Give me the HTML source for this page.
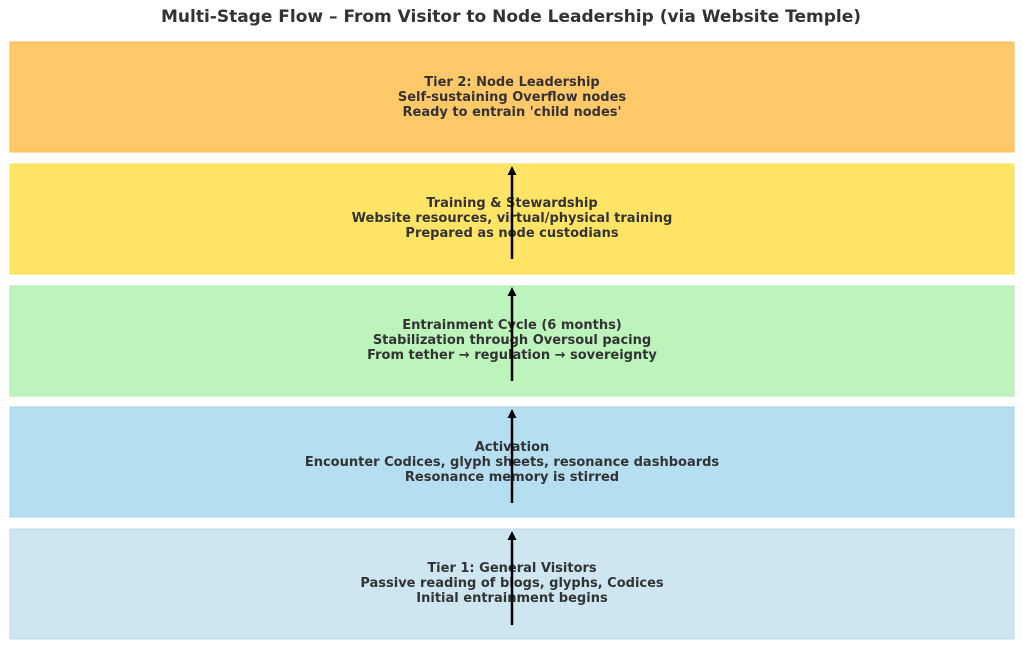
<!DOCTYPE html>
<html><head><meta charset="utf-8"><style>
html,body{margin:0;padding:0;background:#fff;}
svg{display:block;}
text{font-family:"DejaVu Sans","Liberation Sans",sans-serif;font-weight:bold;fill:#333;}
</style></head><body>
<svg width="1023" height="648" viewBox="0 0 1023 648" xmlns="http://www.w3.org/2000/svg">
<text x="511" y="22" text-anchor="middle" font-size="17">Multi-Stage Flow – From Visitor to Node Leadership (via Website Temple)</text>
<rect x="10" y="42" width="1004" height="110" fill="#ffc868" stroke="#fbbd4f" stroke-width="1"/>
<rect x="10" y="164" width="1004" height="110" fill="#ffe466" stroke="#fbdf55" stroke-width="1"/>
<rect x="10" y="286" width="1004" height="110" fill="#bcf4bb" stroke="#aeeaae" stroke-width="1"/>
<rect x="10" y="407" width="1004" height="110" fill="#b5dff1" stroke="#a3d4ea" stroke-width="1"/>
<rect x="10" y="529" width="1004" height="110" fill="#cde6ef" stroke="#bcdde9" stroke-width="1"/>
<g font-size="13" text-anchor="middle">
<text x="512" y="86">Tier 2: Node Leadership</text>
<text x="512" y="101">Self-sustaining Overflow nodes</text>
<text x="512" y="116">Ready to entrain 'child nodes'</text>
<text x="512" y="207">Training &amp; Stewardship</text>
<text x="512" y="222">Website resources, virtual/physical training</text>
<text x="512" y="237">Prepared as node custodians</text>
<text x="512" y="329">Entrainment Cycle (6 months)</text>
<text x="512" y="344">Stabilization through Oversoul pacing</text>
<text x="512" y="359">From tether → regulation → sovereignty</text>
<text x="512" y="451">Activation</text>
<text x="512" y="466">Encounter Codices, glyph sheets, resonance dashboards</text>
<text x="512" y="481">Resonance memory is stirred</text>
<text x="512" y="572">Tier 1: General Visitors</text>
<text x="512" y="587">Passive reading of blogs, glyphs, Codices</text>
<text x="512" y="602">Initial entrainment begins</text>
</g>
<g stroke="#000" stroke-width="2.5" fill="none">
<line x1="512" y1="625" x2="512" y2="536"/>
<line x1="512" y1="503" x2="512" y2="414"/>
<line x1="512" y1="381" x2="512" y2="292"/>
<line x1="512" y1="259" x2="512" y2="171"/>
</g>
<g fill="#000">
<path d="M507.5,540 L512,531 L516.5,540 Z"/>
<path d="M507.5,418 L512,409 L516.5,418 Z"/>
<path d="M507.5,296 L512,287 L516.5,296 Z"/>
<path d="M507.5,175 L512,166 L516.5,175 Z"/>
</g>
</svg>
</body></html>
